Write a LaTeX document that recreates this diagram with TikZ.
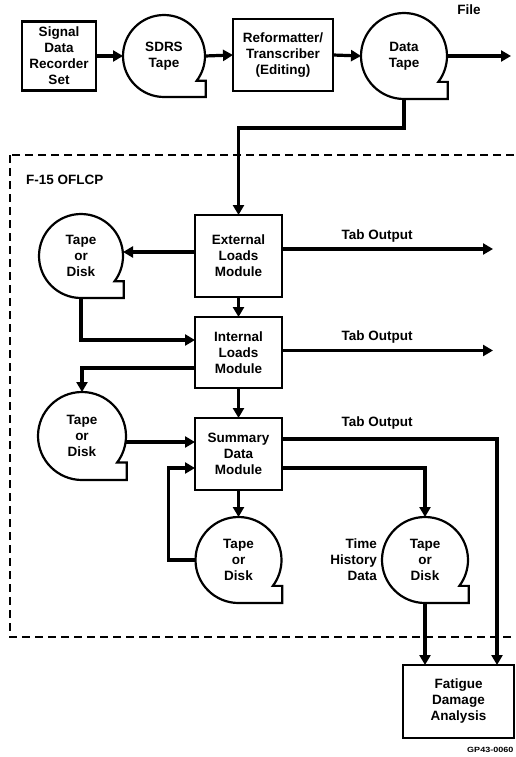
\documentclass[tikz,border=0pt]{standalone}
\usepackage{fontspec}
\setmainfont{Liberation Sans}
\usetikzlibrary{arrows.meta}
\tikzset{
  lbl/.style={font=\bfseries\fontsize{13.5}{16}\selectfont, align=center, inner sep=0pt},
  boxn/.style={lbl, draw, line width=2.4pt, rectangle, outer sep=0pt},
  tapen/.style={lbl, circle, minimum size=#1, outer sep=0pt},
  shapeline/.style={line width=2.2pt, line join=miter},
  arr/.style={line width=3.2pt, -{Triangle[length=10pt,width=11pt]}},
  dashline/.style={line width=2.4pt, dash pattern=on 8pt off 5pt},
}
\newcommand\tapeoutline[2]{%
  \draw[shapeline] (#1.south) arc[start angle=-90, end angle=-397, radius=#2pt]
    -- ++({0.22*#2},0) |- (#1.south);
}
\begin{document}
\begin{tikzpicture}[x=1pt,y=1pt]
\useasboundingbox (0,0) rectangle (515,-757);
% dashed enclosure
\draw[dashline] (10,-155) rectangle (560,-637);
\node[lbl, anchor=west] (oflcp) at (26,-180) {F-15 OFLCP};

% top row
\node[boxn, minimum width=74pt, minimum height=69pt] (sig) at (59,-56) {Signal\\Data\\Recorder\\Set};
\node[tapen=82pt] (sdrs) at (164,-56) {SDRS\\Tape};
\tapeoutline{sdrs}{41}
\node[boxn, minimum width=100pt, minimum height=72pt] (refm) at (283,-55) {Reformatter/\\Transcriber\\(Editing)};
\node[tapen=86pt] (dt) at (404,-56) {Data\\Tape};
\tapeoutline{dt}{43}
\coordinate (fileend) at (511,-56);
\node[lbl] (filelbl) at (469,-10) {File};

% modules
\node[boxn, minimum width=87pt, minimum height=82pt] (ext) at (238.5,-256) {External\\Loads\\Module};
\node[boxn, minimum width=87pt, minimum height=71pt] (int) at (238.5,-352.5) {Internal\\Loads\\Module};
\node[boxn, minimum width=87pt, minimum height=72pt] (sum) at (238.5,-454) {Summary\\Data\\Module};

% tapes
\node[tapen=84pt] (t1) at (81,-256) {Tape\\or\\Disk};
\tapeoutline{t1}{42}
\node[tapen=88pt] (t2) at (82,-436) {Tape\\or\\Disk};
\tapeoutline{t2}{44}
\node[tapen=86pt] (t3) at (238.5,-560) {Tape\\or\\Disk};
\tapeoutline{t3}{43}
\node[tapen=86pt] (t4) at (425,-560) {Tape\\or\\Disk};
\tapeoutline{t4}{43}
\node[lbl, anchor=east, align=right] (thd) at (377,-560) {Time\\History\\Data};

% fatigue
\node[boxn, minimum width=111pt, minimum height=73pt] (fat) at (458.5,-701.5) {Fatigue\\Damage\\Analysis};
\node[font=\bfseries\fontsize{7.5}{8}\selectfont, anchor=west, inner sep=0pt, xscale=1.2] (gp) at (467,-750) {GP43-0060};

% output coordinates
\coordinate (tab1end) at (493,-249);
\coordinate (tab2end) at (493,-350.5);
\node[lbl] (tab1lbl) at (377,-236) {Tab Output};
\node[lbl] (tab2lbl) at (377,-337) {Tab Output};
\node[lbl] (tab3lbl) at (377,-423) {Tab Output};

% connectors top row
\draw[arr] (sig.east) -- (sdrs.west);
\draw[arr] (sdrs.east) -- (refm.west);
\draw[arr] (refm.east) -- (dt.west);
\draw[arr] (dt.east) -- (fileend);
\draw[arr] (dt.south) -- ++(0,-29) -| (ext.north);

% module connectors
\draw[arr] ([yshift=4pt]ext.west) -- ([yshift=4pt]t1.east);
\draw[arr] ([yshift=7pt]ext.east) -- (tab1end);
\draw[arr] (ext.south) -- (int.north);
\draw[arr] (t1.south) |- ([yshift=12.5pt]int.west);
\draw[arr] ([yshift=2pt]int.east) -- (tab2end);
\draw[arr] ([yshift=-15.5pt]int.west) -| (t2.north);
\draw[arr] (int.south) -- (sum.north);
\draw[arr] ([yshift=-6pt]t2.east) -- ([yshift=12pt]sum.west);
\draw[arr] (sum.south) -- (t3.north);
\draw[arr] (t3.west) -- ++(-27,0) |- ([yshift=-14pt]sum.west);
\draw[arr] ([yshift=-14pt]sum.east) -| (t4.north);
\draw[arr] ([yshift=15pt]sum.east) -| ([xshift=38.5pt]fat.north);
\draw[arr] (t4.south) -- (t4.south |- fat.north);
\end{tikzpicture}
\end{document}
